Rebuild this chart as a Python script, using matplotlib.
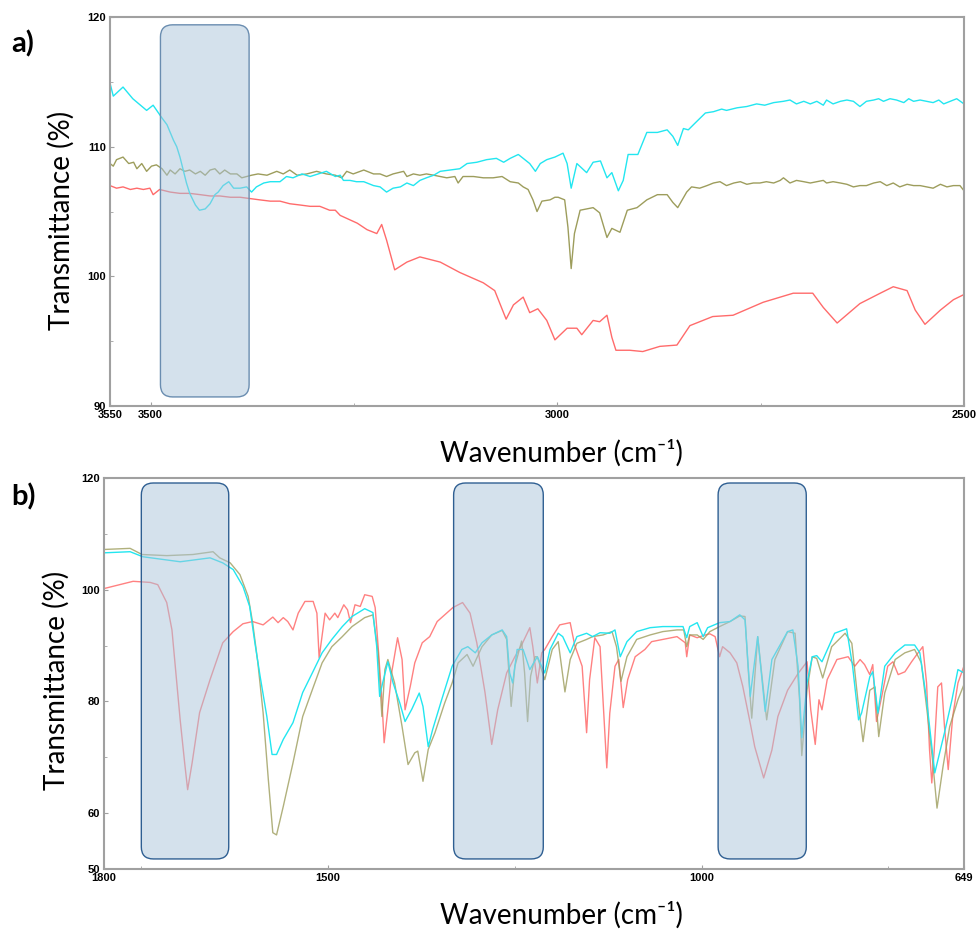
import matplotlib
matplotlib.use("Agg")
import matplotlib.pyplot as plt
from matplotlib.patches import FancyBboxPatch

# ---- panel a) 3550-2500 cm-1 ----
wn_a_cyan = [3550, 3546, 3534, 3522, 3505, 3497, 3486, 3480,
             3472, 3468, 3464, 3460, 3456, 3452, 3445, 3440, 3433, 3427, 3421, 3417, 3411, 3404,
             3398, 3390, 3382, 3376, 3370, 3361, 3353, 3341, 3333, 3325, 3314, 3304, 3294, 3284,
             3273, 3267, 3263, 3255, 3247, 3238, 3226, 3218, 3210, 3202, 3193, 3185, 3177, 3169,
             3161, 3152, 3144, 3132, 3120, 3111, 3099, 3087, 3075, 3066, 3058, 3048, 3040, 3034,
             3027, 3021, 3013, 3003,
             2993, 2988, 2983, 2976, 2964, 2956, 2947, 2939, 2933, 2925, 2919, 2913, 2901, 2890,
             2877, 2865, 2858, 2852,
             2845, 2839, 2831, 2818, 2808, 2798, 2792, 2779, 2767, 2755, 2745, 2734, 2722, 2714,
             2706, 2697, 2689, 2681, 2673, 2669, 2661, 2652, 2644, 2636, 2628, 2620, 2611, 2605,
             2599, 2591, 2583, 2574, 2568, 2562, 2554, 2546, 2538, 2531, 2525, 2517, 2509, 2500]
t_a_cyan = [114.9, 113.9, 114.6, 113.7, 112.8, 113.2, 112.2, 111.7,
            110.5, 110.0, 109.2, 108.2, 107.2, 106.4, 105.5, 105.1, 105.2, 105.6, 106.3, 106.5, 107.0, 107.3,
            106.8, 106.8, 106.9, 106.5, 106.9, 107.2, 107.3, 107.3, 107.7, 107.6, 107.9, 107.7, 107.9, 108.1,
            107.7, 107.8, 107.4, 107.4, 107.3, 107.3, 107.0, 106.9, 106.5, 106.8, 106.9, 107.2, 107.0, 107.4,
            107.6, 107.8, 108.1, 108.2, 108.3, 108.7, 108.8, 109.0, 109.1, 108.8, 109.1, 109.4, 109.0, 108.7,
            108.1, 108.7, 109.0, 109.2,
            109.5, 108.7, 106.8, 108.7, 108.0, 108.8, 108.9, 107.6, 108.0, 106.6, 107.4, 109.4, 109.4, 111.1,
            111.1, 111.3, 110.8, 110.1,
            111.4, 111.3, 111.8, 112.6, 112.7, 112.9, 112.8, 113.0, 113.1, 113.3, 113.2, 113.4, 113.5, 113.6,
            113.3, 113.5, 113.3, 113.5, 113.2, 113.6, 113.3, 113.5, 113.6, 113.5, 113.1, 113.5, 113.6, 113.7,
            113.5, 113.7, 113.6, 113.4, 113.7, 113.5, 113.6, 113.5, 113.4, 113.6, 113.3, 113.5, 113.7, 113.3]

wn_a_olive = [3550, 3546, 3542, 3534, 3527, 3521, 3517, 3511, 3505, 3499, 3493, 3486, 3480, 3476,
              3470, 3464, 3458, 3452, 3445, 3439, 3433, 3427, 3421, 3415, 3409, 3402, 3394, 3388,
              3382, 3376, 3368, 3357, 3345, 3337, 3329, 3320, 3308, 3296, 3284, 3273,
              3265, 3259, 3251, 3238, 3226, 3218, 3210, 3202, 3189, 3185, 3177, 3169, 3161, 3152,
              3144, 3136, 3126, 3122, 3116, 3103, 3091, 3079, 3068, 3058, 3048, 3042, 3036, 3030,
              3025, 3019, 3009, 3003,
              2999, 2991, 2987, 2983, 2979, 2972, 2956, 2948, 2939, 2933, 2923, 2914, 2902, 2890,
              2877, 2865, 2858, 2852,
              2841, 2835, 2825, 2816, 2808, 2800, 2792, 2783, 2775, 2767, 2759, 2751, 2743, 2734,
              2726, 2722, 2714, 2706, 2697, 2689, 2681, 2673, 2669, 2661, 2652, 2644, 2636, 2628,
              2620, 2611, 2603, 2595, 2587, 2579, 2570, 2562, 2554, 2546, 2538, 2529, 2521, 2513,
              2505, 2500]
t_a_olive = [108.7, 108.5, 109.0, 109.2, 108.7, 108.8, 108.3, 108.7, 108.1, 108.5, 108.6, 108.3, 107.8, 108.2,
             107.9, 108.3, 108.1, 108.2, 107.9, 108.1, 107.8, 108.2, 108.3, 107.9, 108.2, 107.9, 107.9, 107.6,
             107.7, 107.8, 107.9, 107.8, 108.1, 107.9, 108.2, 107.8, 107.9, 108.1, 107.9, 107.8,
             107.6, 108.1, 107.9, 108.2, 107.9, 107.9, 107.7, 107.9, 108.1, 107.7, 107.9, 107.8, 107.9, 107.8,
             107.7, 107.6, 107.7, 107.2, 107.7, 107.7, 107.6, 107.6, 107.7, 107.3, 107.2, 106.9, 106.7, 105.9,
             105.0, 105.8, 105.9, 106.1,
             106.1, 105.9, 103.8, 100.6, 103.3, 105.1, 105.3, 104.9, 103.0, 103.7, 103.4, 105.1, 105.3, 105.9,
             106.3, 106.3, 105.7, 105.3,
             106.5, 106.9, 106.8, 107.0, 107.2, 107.3, 107.0, 107.2, 107.3, 107.1, 107.2, 107.2, 107.3, 107.2,
             107.4, 107.6, 107.2, 107.4, 107.3, 107.2, 107.3, 107.4, 107.2, 107.3, 107.2, 107.1, 106.9, 107.0,
             107.0, 107.2, 107.3, 107.0, 107.2, 106.9, 107.1, 107.0, 107.0, 106.9, 106.8, 107.1, 106.9, 107.0,
             107.0, 106.6]

wn_a_red = [3550, 3542, 3534, 3525, 3517, 3509, 3501, 3497, 3489, 3476, 3464, 3452, 3439, 3427,
            3415, 3402, 3390, 3378, 3366, 3353, 3341, 3329, 3316, 3304, 3292, 3280, 3273,
            3267, 3246, 3234, 3222, 3216, 3210,
            3200, 3185, 3169, 3144, 3120, 3091, 3077, 3063, 3054, 3042, 3034, 3024, 3013, 3003,
            2988, 2976, 2970, 2956, 2948, 2939, 2933, 2928, 2911, 2895, 2874, 2853, 2837, 2809,
            2784, 2747, 2710, 2686, 2673, 2656, 2628, 2603, 2587, 2570, 2560, 2548, 2529, 2513, 2500]
t_a_red = [107.0, 106.8, 106.9, 106.7, 106.8, 106.7, 106.8, 106.3, 106.7, 106.5, 106.4, 106.4, 106.3, 106.2,
           106.2, 106.1, 106.1, 106.0, 105.9, 105.8, 105.8, 105.6, 105.5, 105.4, 105.4, 105.1, 105.1,
           104.7, 104.1, 103.6, 103.3, 104.0, 102.8,
           100.5, 101.1, 101.5, 101.1, 100.3, 99.5, 98.9, 96.7, 97.8, 98.4, 97.2, 97.5, 96.6, 95.1,
           96.0, 96.0, 95.5, 96.6, 96.5, 97.0, 95.3, 94.3, 94.3, 94.2, 94.6, 94.7, 96.2, 96.9,
           97.0, 98.0, 98.7, 98.7, 97.6, 96.4, 97.9, 98.7, 99.2, 98.9, 97.4, 96.3, 97.4, 98.2, 98.6]

# ---- panel b) 1800-649 cm-1 ----
wn_b_cyan = [1800, 1765, 1748, 1698, 1658, 1641, 1627, 1614, 1605, 1598, 1591, 1582, 1575, 1569,
             1560, 1547, 1534, 1520, 1508, 1495, 1481, 1468, 1451, 1440, 1435, 1431, 1427, 1420,
             1413, 1404, 1397, 1388, 1378, 1373, 1366, 1360, 1348, 1334, 1321, 1313, 1303, 1294,
             1281, 1267, 1261, 1257, 1253, 1247, 1239, 1230, 1220, 1210, 1203, 1192, 1186, 1176,
             1167, 1154, 1146, 1136, 1123, 1116, 1109, 1100, 1087, 1069, 1052, 1033, 1025, 1020,
             1016, 1006, 998, 992, 976, 962, 949, 942, 938, 935, 925, 915, 906, 885, 878, 871, 866,
             859, 852, 846, 839, 822, 806, 798, 790, 786, 775, 771, 764, 755, 741, 728, 715, 708,
             699, 688, 675, 665, 657, 649]
t_b_cyan = [106.6, 106.8, 105.9, 105.0, 105.7, 104.8, 103.6, 100.6, 97.0, 90.5, 84.5, 77.3, 70.5, 70.5,
            73.2, 76.2, 81.6, 85.4, 88.7, 91.1, 93.4, 95.2, 96.6, 95.9, 89.9, 80.9, 83.3, 87.1,
            83.3, 79.7, 76.4, 78.6, 81.5, 79.1, 71.9, 75.0, 80.3, 86.3, 89.3, 89.8, 88.7, 90.5,
            91.9, 92.8, 91.6, 85.1, 83.3, 89.3, 89.3, 85.7, 88.0, 85.1, 89.3, 92.2, 91.6, 88.7,
            91.6, 92.2, 91.6, 92.3, 92.2, 92.8, 88.0, 90.7, 92.5, 93.2, 93.4, 93.4, 93.4, 91.4,
            93.4, 94.1, 91.6, 93.2, 94.1, 94.3, 95.5, 94.6, 86.9, 80.9, 91.6, 78.2, 87.5, 92.5, 92.8, 86.3, 73.5,
            83.3, 88.0, 88.2, 87.1, 92.2, 93.0, 86.3, 76.7, 77.9, 84.4, 85.3, 77.9, 86.3, 88.7, 90.1, 90.1, 88.7,
            80.3, 67.2, 74.4, 80.3, 85.7, 85.1]

wn_b_olive = [1800, 1765, 1749, 1716, 1681, 1654, 1645, 1631, 1618, 1607, 1601, 1594, 1587, 1580,
              1574, 1569, 1560, 1547, 1534, 1520, 1508, 1495, 1481, 1468, 1451, 1440, 1433, 1428,
              1424, 1420, 1411, 1401, 1393, 1384, 1380, 1373, 1366, 1357, 1344, 1334, 1326, 1314,
              1306, 1294, 1281, 1267, 1261, 1255, 1250, 1241, 1237, 1233, 1229, 1223, 1220, 1210,
              1200, 1192, 1183, 1176, 1167, 1154, 1146, 1132, 1120, 1114, 1108, 1100, 1087, 1069,
              1052, 1033, 1024, 1020, 1016, 1006, 998, 989, 976, 962, 949, 942, 938, 933, 925, 913,
              902, 885, 875, 869, 866, 859, 852, 846, 838, 826, 808, 799, 791, 784, 775, 768, 763,
              755, 741, 728, 715, 706, 698, 691, 685, 677, 668, 657, 649]
t_b_olive = [107.2, 107.4, 106.3, 106.1, 106.3, 106.8, 105.7, 104.8, 102.7, 98.8, 94.1, 86.9, 78.0, 66.0,
             56.5, 56.1, 61.2, 69.0, 77.3, 82.5, 86.9, 89.8, 91.6, 93.4, 95.0, 95.5, 88.7, 77.3,
             85.7, 87.5, 83.3, 75.5, 68.7, 70.8, 71.1, 65.7, 71.4, 74.4, 79.7, 83.3, 86.9, 88.4,
             86.3, 89.8, 91.9, 92.7, 91.1, 79.1, 86.3, 90.8, 85.1, 76.4, 84.5, 88.0, 88.0, 83.9,
             89.3, 90.7, 81.7, 87.5, 90.4, 91.1, 91.6, 91.9, 92.5, 89.8, 83.6, 88.0, 91.1, 91.9,
             92.5, 92.8, 92.8, 89.8, 91.9, 91.9, 91.1, 92.5, 93.4, 94.3, 95.3, 95.2, 86.3, 77.0, 91.6, 76.7,
             87.5, 92.5, 92.2, 80.3, 70.3, 82.0, 88.0, 87.7, 84.2, 89.8, 92.2, 90.4, 80.3, 72.8, 82.0, 82.6, 73.7,
             81.5, 87.5, 88.7, 89.3, 86.9, 77.9, 69.5, 60.9, 68.3, 75.5, 80.3, 83.0]

wn_b_red = [1800, 1761, 1738, 1728, 1716, 1709, 1698, 1692, 1688, 1682, 1672, 1658, 1641, 1627,
            1614, 1601, 1587, 1574, 1567, 1560, 1554, 1547, 1540, 1531, 1520, 1515, 1512, 1504,
            1498, 1491, 1487, 1479, 1474, 1470, 1464, 1457, 1451, 1441, 1437, 1433, 1428, 1425,
            1420, 1415, 1407, 1401, 1397, 1390, 1384, 1374, 1364, 1354, 1344, 1333, 1320, 1310,
            1301, 1290, 1281, 1273, 1261, 1250, 1241, 1230, 1226, 1220, 1214, 1210, 1200, 1190,
            1176, 1170, 1160, 1154, 1150, 1143, 1136, 1131, 1127, 1123, 1116, 1111, 1105, 1099,
            1089, 1076, 1067, 1052, 1033, 1022, 1020, 1016, 1006, 998, 989, 982, 976, 972, 962,
            953, 945, 935, 929, 917, 906, 898, 885, 871, 859, 854, 848, 843, 839, 832, 819, 804,
            795, 788, 782, 775, 771, 766, 759, 751, 744, 737, 728, 719, 712, 704, 699, 695, 692,
            689, 684, 679, 675, 670, 664, 657, 649]
t_b_red = [100.2, 101.5, 101.3, 100.9, 97.7, 92.8, 76.7, 69.0, 64.2, 69.0, 78.0, 83.9, 90.5, 92.5,
           93.9, 94.3, 93.7, 95.1, 94.1, 95.0, 94.3, 92.8, 95.8, 97.9, 97.9, 95.8, 87.8, 95.8,
           94.6, 95.8, 95.0, 97.3, 96.4, 94.1, 97.3, 97.0, 99.1, 98.8, 96.8, 89.8, 80.3, 72.6,
           78.5, 85.1, 91.4, 87.5, 78.5, 82.7, 86.9, 90.5, 91.6, 94.3, 95.5, 96.8, 97.7, 95.8,
           90.5, 81.6, 72.3, 78.5, 85.1, 88.0, 90.1, 93.2, 89.8, 83.3, 88.7, 89.3, 91.6, 93.7,
           94.1, 90.1, 86.3, 74.4, 83.9, 91.4, 89.8, 77.9, 68.1, 77.9, 86.3, 87.5, 78.9, 83.9,
           88.0, 89.3, 90.7, 91.1, 91.6, 90.5, 88.0, 91.9, 91.4, 91.8, 92.1, 91.6, 88.0, 89.8, 88.7,
           86.9, 82.7, 76.1, 71.9, 66.3, 71.3, 77.3, 82.0, 85.0, 87.1, 78.5, 72.3, 80.3, 78.5, 83.9, 87.5, 88.0,
           86.3, 87.5, 86.6, 84.8, 86.6, 76.4, 80.9, 86.3, 87.1, 84.8, 85.3, 87.1, 88.4, 89.8, 83.3, 71.3, 65.4,
           70.8, 82.6, 83.3, 75.5, 67.8, 77.3, 83.3, 86.3]

# highlighted regions (wavenumber ranges)
box_a = [(3379, 3488)]
box_b = [(1633, 1750), (1212, 1332), (860, 978)]

CYAN = "#22e6f0"
OLIVE = "#9d9d5c"
RED = "#ff6b6b"
SPINE = "#a0a0a0"

fig = plt.figure(figsize=(9.78, 9.31), dpi=100)
ax1 = fig.add_axes([0.1125, 0.5639, 0.8732, 0.4178])
ax2 = fig.add_axes([0.1063, 0.0666, 0.8793, 0.4200])

lw = 1.0
ax1.plot(wn_a_olive, t_a_olive, color=OLIVE, lw=lw)
ax1.plot(wn_a_red, t_a_red, color=RED, lw=lw)
ax1.plot(wn_a_cyan, t_a_cyan, color=CYAN, lw=lw)

ax2.plot(wn_b_red, t_b_red, color=RED, lw=lw, alpha=0.85)
ax2.plot(wn_b_olive, t_b_olive, color=OLIVE, lw=lw, alpha=0.8)
ax2.plot(wn_b_cyan, t_b_cyan, color=CYAN, lw=lw)

ax1.set_xlim(3550, 2500)
ax1.set_ylim(90, 120)
ax2.set_xlim(1800, 649)
ax2.set_ylim(50, 120)


def add_boxes(ax, ranges, y0, y1, r, aspect, edge):
    for lo, hi in ranges:
        p = FancyBboxPatch((lo, y0), hi - lo, y1 - y0,
                           boxstyle="round,pad=0,rounding_size=%g" % r,
                           mutation_aspect=aspect,
                           facecolor=(0.67, 0.77, 0.86, 0.5),
                           edgecolor=edge, lw=1.0, zorder=3)
        ax.add_patch(p)


add_boxes(ax1, box_a, 90.7, 119.4, 15, 0.0627, "#6a8db0")
add_boxes(ax2, box_b, 51.8, 119.1, 16, 0.134, "#2f5f92")

tick_font = dict(family="Liberation Sans", weight="bold", size=8)
ax1.set_xticks([3550, 3500, 3000, 2500])
ax1.set_xticks([3250, 2750], minor=True)
ax1.set_yticks([90, 100, 110, 120])
ax1.set_yticks([95, 105, 115], minor=True)
ax2.set_xticks([1800, 1500, 1000, 649])
ax2.set_xticks([1750, 1250, 750], minor=True)
ax2.set_yticks([50, 60, 80, 100, 120])
ax2.set_yticks([70, 90, 110], minor=True)

for ax in (ax1, ax2):
    for s in ax.spines.values():
        s.set_color(SPINE)
        s.set_linewidth(1.5)
    ax.tick_params(which="both", direction="in", color=SPINE, length=3, pad=3)
    ax.tick_params(which="minor", length=2)
    for lab in ax.get_xticklabels() + ax.get_yticklabels():
        lab.set_fontproperties(tick_font)

label_font = ["Lato", "DejaVu Sans"]
fig.text(0.0624, 0.7637, "Transmittance (%)", rotation=90, ha="center", va="center",
         family=label_font, size=20)
fig.text(0.0580, 0.2696, "Transmittance (%)", rotation=90, ha="center", va="center",
         family=label_font, size=20)
fig.text(0.5736, 0.5134, "Wavenumber (cm\u207b\u00b9)", ha="center", va="center",
         family=label_font, size=20)
fig.text(0.5736, 0.0172, "Wavenumber (cm\u207b\u00b9)", ha="center", va="center",
         family=label_font, size=20)
fig.text(0.012, 0.9527, "a)", ha="left", va="center", family=label_font,
         weight="bold", size=21)
fig.text(0.012, 0.4662, "b)", ha="left", va="center", family=label_font,
         weight="bold", size=21)

fig.savefig("out.png", dpi=100, facecolor="white")
